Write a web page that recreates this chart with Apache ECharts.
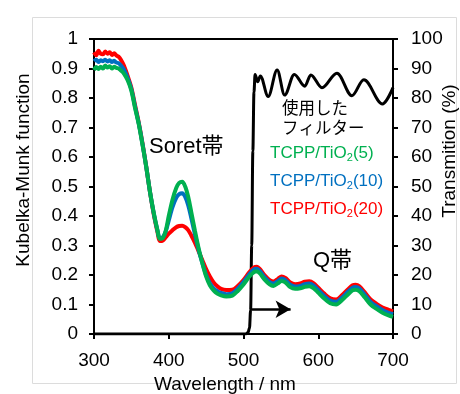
<!DOCTYPE html>
<html>
<head>
<meta charset="utf-8">
<script src="https://cdn.jsdelivr.net/npm/echarts@6/dist/echarts.min.js"></script>
<style>html,body{margin:0;padding:0;background:#fff;}#c{width:460px;height:394px;}</style>
</head>
<body>
<div id="c"></div>
<script>
// Wavelength grid for Kubelka-Munk curves (nm)
var kmWavelengths = [300,303,306,309,312,315,318,321,324,327,330,333,336,340,345,350,355,360,365,370,375,380,385,388,392,396,400,405,410,414,418,422,426,430,435,440,445,450,455,460,465,470,477,485,492,500,508,514,518,522,528,535,540,546,551,556,562,569,576,582,588,594,600,608,616,624,632,640,646,650,655,662,670,678,686,694,700];
var kmTiO2_5 = [0.895,0.905,0.898,0.906,0.900,0.910,0.903,0.908,0.900,0.906,0.902,0.900,0.893,0.883,0.860,0.825,0.765,0.710,0.640,0.565,0.480,0.410,0.350,0.322,0.325,0.350,0.400,0.455,0.495,0.512,0.516,0.500,0.465,0.415,0.350,0.290,0.240,0.195,0.165,0.148,0.137,0.131,0.127,0.130,0.145,0.168,0.195,0.210,0.213,0.205,0.185,0.168,0.163,0.172,0.180,0.175,0.160,0.153,0.155,0.160,0.162,0.155,0.140,0.120,0.104,0.100,0.115,0.135,0.148,0.150,0.145,0.125,0.100,0.085,0.072,0.063,0.058];
var kmTiO2_10 = [0.925,0.930,0.922,0.928,0.925,0.930,0.924,0.928,0.922,0.926,0.920,0.918,0.910,0.897,0.868,0.830,0.770,0.712,0.642,0.565,0.480,0.408,0.350,0.325,0.328,0.348,0.385,0.430,0.462,0.474,0.477,0.465,0.437,0.395,0.338,0.285,0.240,0.200,0.172,0.155,0.145,0.139,0.135,0.138,0.153,0.176,0.203,0.219,0.221,0.213,0.193,0.176,0.171,0.180,0.188,0.183,0.168,0.161,0.163,0.169,0.171,0.164,0.149,0.129,0.113,0.109,0.124,0.144,0.157,0.159,0.154,0.134,0.109,0.094,0.081,0.072,0.067];
var kmTiO2_20 = [0.955,0.945,0.960,0.950,0.948,0.958,0.950,0.955,0.946,0.952,0.944,0.940,0.930,0.910,0.875,0.835,0.775,0.715,0.645,0.565,0.480,0.405,0.345,0.315,0.317,0.328,0.340,0.352,0.362,0.366,0.367,0.362,0.352,0.335,0.310,0.280,0.250,0.220,0.195,0.175,0.162,0.153,0.149,0.150,0.162,0.183,0.210,0.226,0.228,0.220,0.200,0.183,0.178,0.187,0.195,0.190,0.176,0.169,0.171,0.177,0.179,0.172,0.157,0.137,0.121,0.117,0.132,0.152,0.165,0.167,0.162,0.142,0.117,0.102,0.090,0.082,0.077];

// Filter transmission (%)
var filterWavelengths = [300,400,503,506,508,509.5,511,512.5,514,515.5,519,522.5,533,545,555,568,582,590,605,625,645,661,686,700];
var filterTransmission = [0,0,0,0.5,2,8,30,62,82,88,85.5,87.5,80.5,89.5,81,88,84,87.8,83.5,88.4,80.8,86.2,78,83.5];

// Arrow (pointing to longer wavelengths) in data coords
var arrowFrom = [511, 8.4];
var arrowTo = [563, 8.4];

var leftTicksMax = 1, leftInterval = 0.1;
var rightTicksMax = 100, rightInterval = 10;
var xTitle = 'Wavelength / nm', leftTitle = 'Kubelka-Munk function', rightTitle = 'Transmition (%)';

function pairs(xs, ys){ return xs.map(function(x,i){ return [x, ys[i]]; }); }

var FONT = 'Liberation Sans, Arial, sans-serif';
var chart = echarts.init(document.getElementById('c'), null, {renderer:'canvas'});
var axisLineStyle = {show:true, lineStyle:{color:'#000', width:2}};
var axisTickStyle = {show:true, inside:false, length:5, lineStyle:{color:'#000', width:2}};
chart.setOption({
  animation:false,
  backgroundColor:'#fff',
  grid:{left:94, right:67, top:39, bottom:60, containLabel:false, outerBoundsMode:'none',
    show:true, borderColor:'#000', borderWidth:2, backgroundColor:'transparent'},
  xAxis:{type:'value', min:300, max:700, interval:100,
    axisLine:axisLineStyle, axisTick:axisTickStyle, splitLine:{show:false},
    axisLabel:{color:'#000', fontSize:19, fontFamily:FONT, margin:17}
  },
  yAxis:[
    {type:'value', min:0, max:leftTicksMax, interval:leftInterval, position:'left',
      axisLine:axisLineStyle, axisTick:axisTickStyle, splitLine:{show:false},
      axisLabel:{color:'#000', fontSize:19, fontFamily:FONT, margin:16}
    },
    {type:'value', min:0, max:rightTicksMax, interval:rightInterval, position:'right',
      axisLine:axisLineStyle, axisTick:axisTickStyle, splitLine:{show:false},
      axisLabel:{color:'#000', fontSize:19, fontFamily:FONT, margin:18}
    }
  ],
  series:[
    {type:'line', name:'filter', yAxisIndex:1, showSymbol:false, smooth:0.35, smoothMonotone:'x',
      data:pairs(filterWavelengths, filterTransmission),
      lineStyle:{color:'#000', width:3, join:'round'}, z:2,
      markLine:{silent:true, symbol:['none','arrow'], symbolSize:[13,15],
        lineStyle:{color:'#000', width:2.5, type:'solid'}, label:{show:false},
        data:[[{coord:arrowFrom},{coord:arrowTo}]]}
    },
    {type:'line', name:'TCPP/TiO2(20)', showSymbol:false, smooth:0.3,
      data:pairs(kmWavelengths, kmTiO2_20), lineStyle:{color:'#ff0000', width:4}, z:3},
    {type:'line', name:'TCPP/TiO2(10)', showSymbol:false, smooth:0.3,
      data:pairs(kmWavelengths, kmTiO2_10), lineStyle:{color:'#0070c0', width:4}, z:4},
    {type:'line', name:'TCPP/TiO2(5)', showSymbol:false, smooth:0.3,
      data:pairs(kmWavelengths, kmTiO2_5), lineStyle:{color:'#00b050', width:4}, z:5}
  ],
  graphic:[
    {type:'rect', shape:{x:32.5, y:17.5, width:424, height:366}, style:{fill:'none', stroke:'#dcdcdc', lineWidth:1}, z:-10, silent:true},
    {type:'text', x:225, y:385, style:{text:xTitle, fill:'#000', font:'19px Liberation Sans, Arial, sans-serif', align:'center', verticalAlign:'middle'}},
    {type:'text', x:24, y:170, rotation:Math.PI/2, style:{text:leftTitle, fill:'#000', font:'19px Liberation Sans, Arial, sans-serif', align:'center', verticalAlign:'middle'}},
    {type:'text', x:450, y:151, rotation:Math.PI/2, style:{text:rightTitle, fill:'#000', font:'19px Liberation Sans, Arial, sans-serif', align:'center', verticalAlign:'middle'}},
    {type:'text', left:149, top:136, style:{text:'Soret帯', fill:'#000', font:'22px Liberation Sans, "Noto Sans CJK JP", sans-serif'}},
    {type:'text', left:313, top:250, style:{text:'Q帯', fill:'#000', font:'22px Liberation Sans, "Noto Sans CJK JP", sans-serif'}},
    {type:'text', left:282, top:99, style:{text:'使用した', fill:'#000', font:'16.5px "Noto Sans CJK JP", sans-serif'}},
    {type:'text', left:282, top:119, style:{text:'フィルター', fill:'#000', font:'16.5px "Noto Sans CJK JP", sans-serif'}},
    {type:'text', left:270, top:145, style:{rich:{a:{fill:'#00b050', fontSize:17, fontFamily:FONT}, s:{fill:'#00b050', fontSize:11, fontFamily:FONT, padding:[8,0,0,0]}}, text:'{a|TCPP/TiO}{s|2}{a|(5)}'}},
    {type:'text', left:270, top:173, style:{rich:{a:{fill:'#0070c0', fontSize:17, fontFamily:FONT}, s:{fill:'#0070c0', fontSize:11, fontFamily:FONT, padding:[8,0,0,0]}}, text:'{a|TCPP/TiO}{s|2}{a|(10)}'}},
    {type:'text', left:270, top:201, style:{rich:{a:{fill:'#ff0000', fontSize:17, fontFamily:FONT}, s:{fill:'#ff0000', fontSize:11, fontFamily:FONT, padding:[8,0,0,0]}}, text:'{a|TCPP/TiO}{s|2}{a|(20)}'}}
  ]
});
</script>
</body>
</html>
